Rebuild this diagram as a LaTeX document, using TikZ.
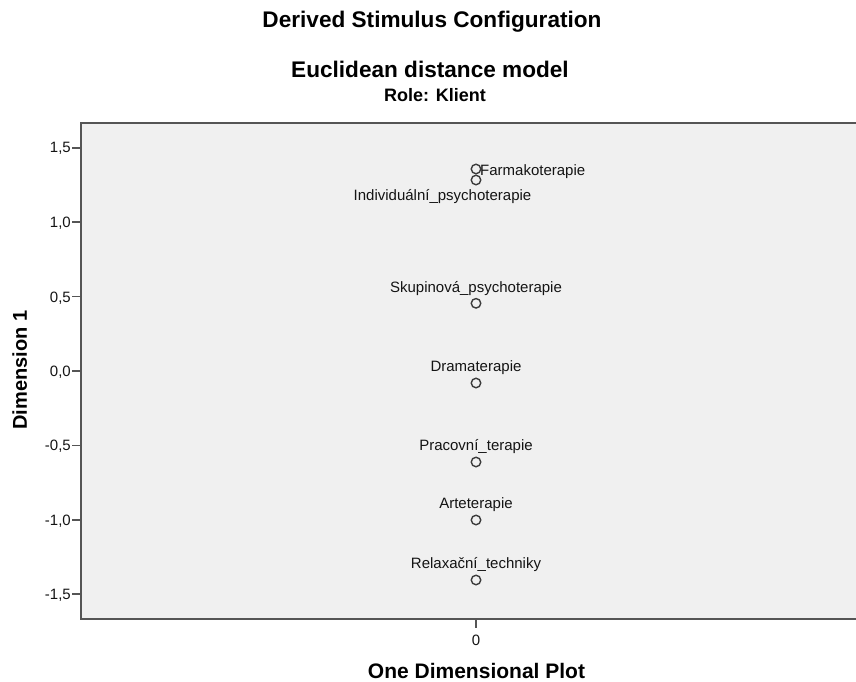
\documentclass[tikz,border=0pt]{standalone}
\usepackage{fontspec}
\setmainfont{Liberation Sans}
\definecolor{plotbg}{RGB}{240,240,240}
\definecolor{framec}{RGB}{85,85,85}
\definecolor{markc}{RGB}{60,60,60}
\definecolor{txt}{RGB}{20,20,20}
\begin{document}
\begin{tikzpicture}[x=1pt,y=-1pt,
  mk/.style={circle,draw=markc,line width=1.4pt,minimum size=9.5pt,inner sep=0pt},
  lbl/.style={font=\fontsize{15}{15}\selectfont,text=txt,inner sep=0pt,anchor=base},
  ticklbl/.style={font=\fontsize{15}{15}\selectfont,text=txt,inner sep=0pt,anchor=base east},
  ttl/.style={font=\fontsize{22.6}{22.6}\selectfont\bfseries,text=black,inner sep=0pt,anchor=base},
  axttl/.style={font=\fontsize{21}{21}\selectfont\bfseries,text=black,inner sep=0pt,anchor=base},
  tickln/.style={draw=framec,line width=1.6pt}]
\useasboundingbox (0,0) rectangle (856,682);
% plot area
\fill[plotbg] (81,123) rectangle (860,619);
\draw[draw=framec,line width=2pt] (862,123) -- (81,123) -- (81,619) -- (862,619);
% titles
\node[ttl] (t1) at (432,27.5) {Derived Stimulus Configuration};
\node[ttl] (t2) at (430,77.5) {Euclidean distance model};
\node[font=\fontsize{18}{18}\selectfont\bfseries,inner sep=0pt,anchor=base] (t3) at (435,101.5) {Role: Klient};
% y ticks
\foreach \y/\n in {147.7/a,222.1/b,296.5/c,370.9/d,445.3/e,519.7/f,594.1/g}{
  \coordinate (yt\n) at (81,\y);
  \coordinate (ys\n) at (72,\y);
  \draw[tickln] (yt\n) -- (ys\n);
}
\node[ticklbl] (l1) at (71,153) {1,5};
\node[ticklbl] (l2) at (71,227.5) {1,0};
\node[ticklbl] (l3) at (71,302) {0,5};
\node[ticklbl] (l4) at (71,376.3) {0,0};
\node[ticklbl] (l5) at (71,450.7) {-0,5};
\node[ticklbl] (l6) at (71,525.1) {-1,0};
\node[ticklbl] (l7) at (71,599.5) {-1,5};
% x tick
\coordinate (xt) at (476,619);
\coordinate (xs) at (476,628);
\draw[tickln] (xt) -- (xs);
\node[lbl] (x0) at (476,645) {0};
% axis titles
\node[axttl] (xa) at (476.5,678) {One Dimensional Plot};
\node[font=\fontsize{20}{20}\selectfont\bfseries,inner sep=0pt,anchor=base,rotate=90] (ya) at (27,370) {Dimension 1};
% points
\node[mk] (p1) at (476,169) {};
\node[mk] (p2) at (476,180) {};
\node[mk] (p3) at (476,303.3) {};
\node[mk] (p4) at (476,383) {};
\node[mk] (p5) at (476,462) {};
\node[mk] (p6) at (476,520) {};
\node[mk] (p7) at (476,580) {};
\node[lbl,anchor=base west] (n1) at (480,175) {Farmakoterapie};
\node[lbl] (n2) at (442.5,200) {Individuální\_psychoterapie};
\node[lbl] (n3) at (476,292) {Skupinová\_psychoterapie};
\node[lbl] (n4) at (476,371.5) {Dramaterapie};
\node[lbl] (n5) at (476,450.5) {Pracovní\_terapie};
\node[lbl] (n6) at (476,508.5) {Arteterapie};
\node[lbl] (n7) at (476,568.5) {Relaxační\_techniky};
\end{tikzpicture}
\end{document}
